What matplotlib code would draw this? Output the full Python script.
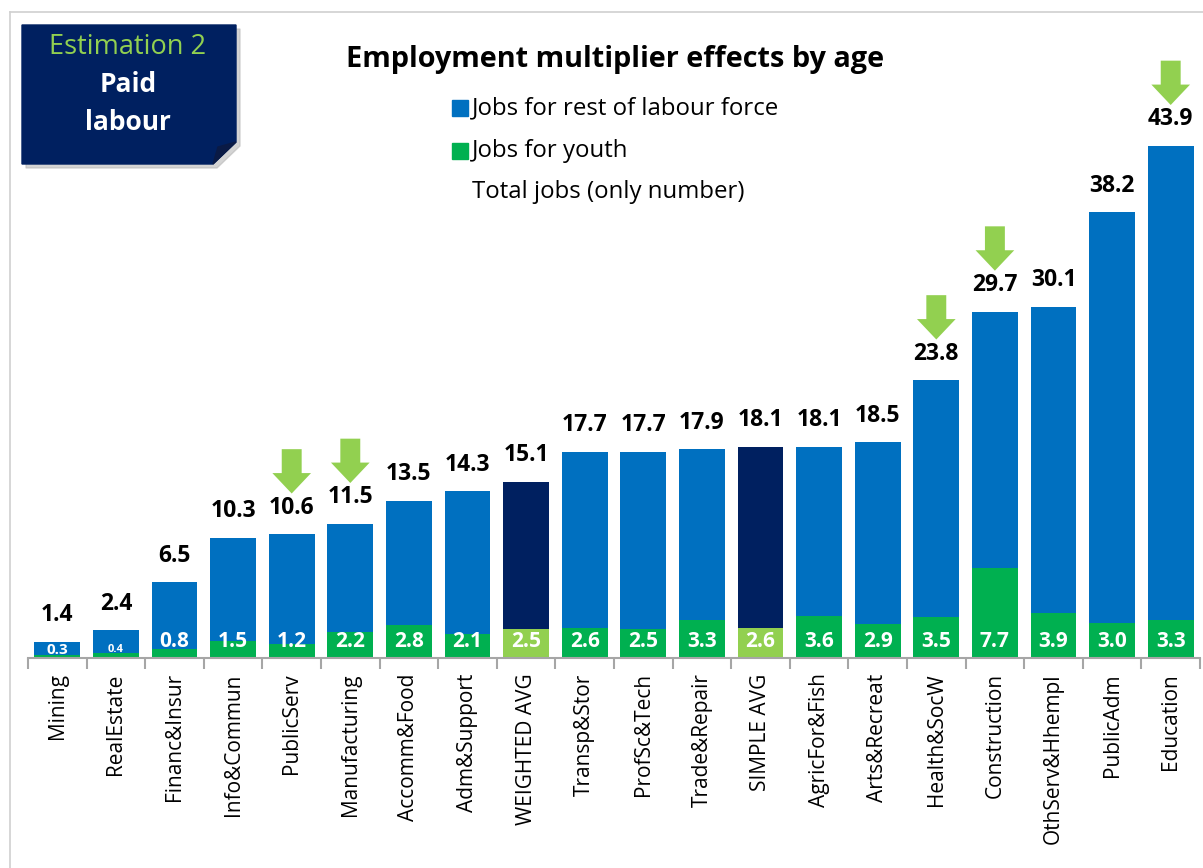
import numpy as np
import matplotlib.pyplot as plt
from matplotlib.patches import Polygon, Rectangle, FancyArrow
from matplotlib.lines import Line2D

plt.rcParams['font.family'] = ['Open Sans', 'DejaVu Sans']

# Sectors ordered by total employment multiplier
sectors = ['Mining', 'RealEstate', 'Financ&Insur', 'Info&Commun', 'PublicServ',
           'Manufacturing', 'Accomm&Food', 'Adm&Support', 'WEIGHTED AVG',
           'Transp&Stor', 'ProfSc&Tech', 'Trade&Repair', 'SIMPLE AVG',
           'AgricFor&Fish', 'Arts&Recreat', 'Health&SocW', 'Construction',
           'OthServ&Hhempl', 'PublicAdm', 'Education']
total_jobs = [1.4, 2.4, 6.5, 10.3, 10.6, 11.5, 13.5, 14.3, 15.1, 17.7,
              17.7, 17.9, 18.1, 18.1, 18.5, 23.8, 29.7, 30.1, 38.2, 43.9]
youth_jobs = [0.3, 0.4, 0.8, 1.5, 1.2, 2.2, 2.8, 2.1, 2.5, 2.6,
              2.5, 3.3, 2.6, 3.6, 2.9, 3.5, 7.7, 3.9, 3.0, 3.3]
averages = ['WEIGHTED AVG', 'SIMPLE AVG']
highlighted = ['PublicServ', 'Manufacturing', 'Health&SocW', 'Construction', 'Education']

BLUE = '#0070C0'
GREEN = '#00B050'
NAVY = '#002060'
LIGHT_GREEN = '#92D050'

W, H = 1203, 868
fig = plt.figure(figsize=(W / 100, H / 100), dpi=100)


def px(x, y):
    # pixel position (origin top-left) -> figure fraction
    return x / W, 1 - y / H


# light outer frame
fig.add_artist(Line2D([10 / W, 10 / W], [0, 1 - 12 / H], color='#D0D0D0', lw=1.2,
                      transform=fig.transFigure))
fig.add_artist(Line2D([10 / W, 1], [1 - 12 / H, 1 - 12 / H], color='#D0D0D0', lw=1.2,
                      transform=fig.transFigure))

ax = fig.add_axes([28 / W, (H - 658) / H, 1172 / W, 560 / H])

x = np.arange(len(sectors))
total = np.array(total_jobs)
youth = np.array(youth_jobs)
rest = total - youth

is_avg = np.array([s in averages for s in sectors])
youth_colors = [LIGHT_GREEN if a else GREEN for a in is_avg]
rest_colors = [NAVY if a else BLUE for a in is_avg]

width = 0.78
ax.bar(x, youth, width=width, color=youth_colors, zorder=2)
ax.bar(x, rest, width=width, bottom=youth, color=rest_colors, zorder=2)

# totals above the bars
for xi, t in zip(x, total):
    ax.annotate(f'{t:.1f}', (xi, t), xytext=(0, 19), textcoords='offset points',
                ha='center', va='center', fontsize=16.5, fontweight='bold', color='black')

# youth values inside the bars (tiny ones get a smaller font)
small_sizes = {0: 11, 1: 8}
for i, (xi, yv) in enumerate(zip(x, youth)):
    size = small_sizes.get(i, 15)
    ypos = 0.7 if i in small_sizes else 1.45
    ax.text(xi, ypos, f'{yv:.1f}', ha='center', va='center', fontsize=size,
            fontweight='bold', color='white', zorder=3)

# green arrows pointing at highlighted sectors
for name in highlighted:
    i = sectors.index(name)
    top = total[i] + 7.3
    ax.add_patch(FancyArrow(x[i], top, 0, -3.8, width=0.34, head_width=0.66,
                            head_length=1.75, length_includes_head=True,
                            color=LIGHT_GREEN, lw=0, clip_on=False, zorder=3))

ax.set_xlim(-0.5, len(sectors) - 0.5)
ax.set_ylim(0, 48)
for side in ['left', 'right', 'top']:
    ax.spines[side].set_visible(False)
ax.spines['bottom'].set_color('#A6A6A6')
ax.spines['bottom'].set_linewidth(1.5)
ax.set_yticks([])
ax.set_xticks(x)
ax.set_xticklabels(sectors, rotation=90, fontsize=15)
ax.tick_params(axis='x', which='major', length=0, pad=11)
ax.set_xticks(np.arange(-0.5, len(sectors)), minor=True)
ax.tick_params(axis='x', which='minor', length=8, width=1.5, color='#A6A6A6',
               direction='out')

# title
fig.text(*px(615, 60), 'Employment multiplier effects by age', ha='center', va='center',
         fontsize=20.8, fontweight='bold')

# legend built by hand
leg_items = [(BLUE, 'Jobs for rest of labour force', 108),
             (GREEN, 'Jobs for youth', 151),
             (None, 'Total jobs (only number)', 192)]
for color, label, yc in leg_items:
    if color:
        fx, fy = px(452, yc + 8)
        fig.add_artist(Rectangle((fx, fy), 16 / W, 16 / H, color=color,
                                 transform=fig.transFigure))
    fig.text(*px(472, yc), label, ha='left', va='center', fontsize=17.3)

# "Estimation 2 / Paid labour" tag with a folded corner
shadow = [(26, 29), (240, 29), (240, 146), (217, 168), (26, 168)]
fig.add_artist(Polygon([px(a, b) for a, b in shadow], closed=True, color='#B8B8B8',
                       alpha=0.6, transform=fig.transFigure))
tag = [(22, 25), (236, 25), (236, 142), (213, 164), (22, 164)]
fig.add_artist(Polygon([px(a, b) for a, b in tag], closed=True, color=NAVY,
                       transform=fig.transFigure))
fold = [(236, 142), (213, 164), (218, 147)]
fig.add_artist(Polygon([px(a, b) for a, b in fold], closed=True, color='#0A1A45',
                       transform=fig.transFigure))
fig.text(*px(128, 47), 'Estimation 2', ha='center', va='center', fontsize=19.5,
         color=LIGHT_GREEN)
fig.text(*px(128, 85), 'Paid', ha='center', va='center', fontsize=19,
         fontweight='bold', color='white')
fig.text(*px(128, 122), 'labour', ha='center', va='center', fontsize=19,
         fontweight='bold', color='white')

fig.savefig('out.png', dpi=100)
